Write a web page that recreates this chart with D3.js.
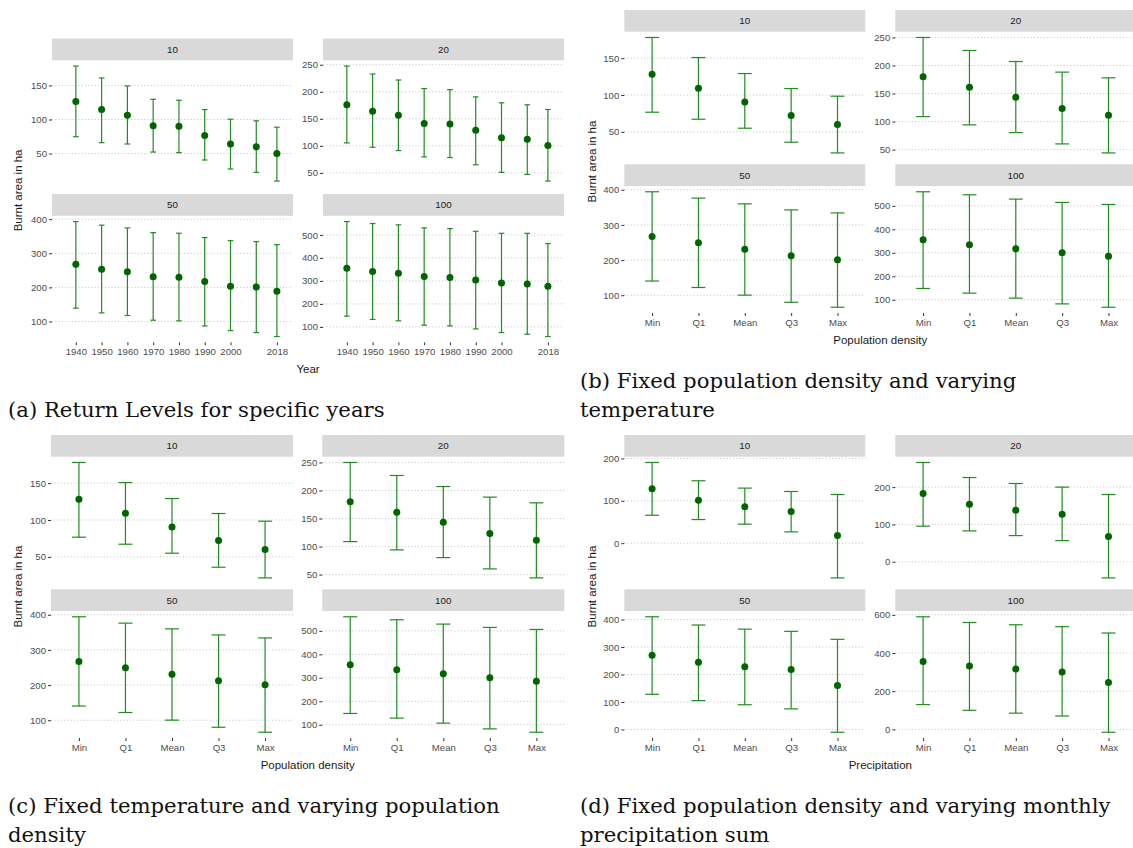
<!DOCTYPE html>
<html><head><meta charset="utf-8">
<script src="https://cdn.jsdelivr.net/npm/d3@7"></script>
<style>body{margin:0;background:#fff} svg{display:block}</style>
</head><body>
<svg id="chart" width="1133" height="848"></svg>
<script>
// ---------- data ----------
const facetLabels = ["10", "20", "50", "100"];
const years = [1940, 1950, 1960, 1970, 1980, 1990, 2000, 2010, 2018];
const yearTicks = [1940, 1950, 1960, 1970, 1980, 1990, 2000, 2018];
const quantLevels = ["Min", "Q1", "Mean", "Q3", "Max"];

// (a) return levels for specific years
const a10_est = [126.3, 114.6, 106.3, 90.8, 90.2, 76.6, 63.9, 60.0, 49.9];
const a10_lo  = [74.7, 66.0, 64.0, 52.2, 51.3, 40.5, 27.3, 22.4, 9.6];
const a10_hi  = [178.5, 161.0, 149.3, 129.7, 128.2, 114.6, 100.5, 98.0, 88.7];
const a20_est = [175.9, 164.2, 156.8, 141.5, 140.3, 128.7, 115.2, 112.1, 100.5];
const a20_lo  = [105.4, 97.4, 91.3, 79.6, 78.4, 65.0, 51.0, 47.2, 34.9];
const a20_hi  = [247.6, 232.9, 221.8, 205.9, 204.0, 190.6, 179.6, 175.9, 167.3];
const a50_est = [267.6, 253.0, 245.9, 231.2, 229.4, 217.6, 203.0, 200.9, 189.0];
const a50_lo  = [139.0, 125.3, 117.6, 103.8, 101.8, 87.0, 73.4, 67.6, 55.9];
const a50_hi  = [393.0, 382.4, 374.4, 360.6, 358.8, 345.9, 337.0, 334.1, 325.3];
const a100_est = [355.6, 340.7, 333.7, 318.8, 314.4, 304.4, 291.3, 287.0, 276.8];
const a100_lo  = [146.8, 132.4, 126.3, 107.4, 104.4, 91.0, 75.5, 68.0, 58.0];
const a100_hi  = [558.2, 549.5, 543.8, 530.6, 527.6, 515.8, 507.0, 507.0, 461.9];

// (b) fixed population density, varying temperature
const b10_est = [128.3, 109.3, 90.7, 72.1, 59.9];
const b10_lo  = [76.7, 67.2, 55.0, 36.0, 21.5];
const b10_hi  = [178.0, 150.8, 129.1, 108.8, 98.4];
const b20_est = [179.8, 161.4, 143.6, 123.2, 111.4];
const b20_lo  = [108.9, 94.1, 80.4, 60.2, 44.1];
const b20_hi  = [250.0, 226.8, 207.1, 188.2, 178.0];
const b50_est = [267.3, 249.3, 230.9, 212.0, 200.6];
const b50_lo  = [140.4, 122.0, 100.3, 80.0, 65.9];
const b50_hi  = [394.3, 376.2, 359.9, 342.7, 334.1];
const b100_est = [355.8, 334.3, 317.2, 300.0, 285.4];
const b100_lo  = [148.1, 128.3, 106.9, 82.4, 68.2];
const b100_hi  = [560.0, 547.2, 528.8, 514.6, 506.0];

// (c) fixed temperature, varying population density (values as shown)
const c10_est = [128.3, 109.3, 90.7, 72.1, 59.9];
const c10_lo  = [76.7, 67.2, 55.0, 36.0, 21.5];
const c10_hi  = [178.0, 150.8, 129.1, 108.8, 98.4];
const c20_est = [179.8, 161.4, 143.6, 123.2, 111.4];
const c20_lo  = [108.9, 94.1, 80.4, 60.2, 44.1];
const c20_hi  = [250.0, 226.8, 207.1, 188.2, 178.0];
const c50_est = [267.3, 249.3, 230.9, 212.0, 200.6];
const c50_lo  = [140.4, 122.0, 100.3, 80.0, 65.9];
const c50_hi  = [394.3, 376.2, 359.9, 342.7, 334.1];
const c100_est = [355.8, 334.3, 317.2, 300.0, 285.4];
const c100_lo  = [148.1, 128.3, 106.9, 82.4, 68.2];
const c100_hi  = [560.0, 547.2, 528.8, 514.6, 506.0];

// (d) fixed population density, varying monthly precipitation sum
const d10_est = [128.4, 101.6, 85.8, 74.7, 18.0];
const d10_lo  = [66.0, 55.8, 44.9, 26.7, -82.0];
const d10_hi  = [190.5, 147.3, 130.0, 122.0, 114.9];
const d20_est = [182.8, 154.4, 138.3, 127.6, 67.6];
const d20_lo  = [95.4, 82.8, 70.2, 56.8, -43.2];
const d20_hi  = [266.0, 225.7, 209.7, 200.0, 180.2];
const d50_est = [270.0, 245.0, 228.0, 218.0, 160.0];
const d50_lo  = [128.0, 105.0, 90.0, 75.0, -10.0];
const d50_hi  = [410.0, 380.0, 365.0, 357.0, 328.0];
const d100_est = [355.0, 332.0, 316.0, 300.0, 246.0];
const d100_lo  = [130.0, 100.0, 85.0, 70.0, -15.0];
const d100_hi  = [590.0, 560.0, 548.0, 538.0, 505.0];

// y tick labels per facet
const ticksA = [[50, 100, 150], [50, 100, 150, 200, 250], [100, 200, 300, 400], [100, 200, 300, 400, 500]];
const ticksB = [[50, 100, 150], [50, 100, 150, 200, 250], [100, 200, 300, 400], [100, 200, 300, 400, 500]];
const ticksD = [[0, 100, 200], [0, 100, 200], [0, 100, 200, 300, 400], [0, 200, 400, 600]];

const yTitle = "Burnt area in ha";
const captions = {
  a: ["(a) Return Levels for specific years"],
  b: ["(b) Fixed population density and varying", "temperature"],
  c: ["(c) Fixed temperature and varying population", "density"],
  d: ["(d) Fixed population density and varying monthly", "precipitation sum"]
};

// ---------- drawing ----------
const svg = d3.select("#chart");
const SANS = "'Liberation Sans', Arial, sans-serif";
const SERIF = "'DejaVu Serif', serif";
const BAR = "#228B22", PT = "#006400";

function pack(est, lo, hi) { return { est, lo, hi }; }

function drawFigure(spec) {
  const g = svg.append("g");
  const { facets, ticks, cols, rows, w, stripH, panelH } = spec;
  const xVals = spec.kind === "year" ? years : quantLevels;
  let lastBottom = 0;
  facets.forEach((f, i) => {
    const col = i % 2, row = Math.floor(i / 2);
    const left = cols[col], right = left + w;
    const stripTop = rows[row];
    const top = stripTop + stripH, bottom = top + panelH;
    lastBottom = bottom;

    const xs = spec.kind === "year"
      ? d3.scaleLinear().domain([1930.75, 2024.25]).range([left, right])
      : d3.scalePoint().domain(quantLevels).range([left, right]).padding(0.6);
    const capHalf = spec.kind === "year" ? xs(1941.1) - xs(1940) : xs.step() * 0.15;

    const lo = d3.min(f.lo), hi = d3.max(f.hi), pad = (hi - lo) * 0.05;
    const y = d3.scaleLinear().domain([lo - pad, hi + pad]).range([bottom, top]);

    // strip
    g.append("rect").attr("x", left).attr("y", stripTop).attr("width", w).attr("height", stripH)
      .attr("fill", "#d9d9d9");
    g.append("text").attr("x", (left + right) / 2).attr("y", stripTop + stripH / 2)
      .attr("text-anchor", "middle").attr("dominant-baseline", "central")
      .attr("font-family", SANS).attr("font-size", 9.8).attr("fill", "#1a1a1a")
      .text(facetLabels[i]);

    // grid
    g.append("g").selectAll("line").data(ticks[i]).join("line")
      .attr("x1", left).attr("x2", right)
      .attr("y1", d => y(d)).attr("y2", d => y(d))
      .attr("stroke", "#b3b3b3").attr("stroke-width", 0.8).attr("stroke-dasharray", "1,2.3");

    // y axis
    const ya = g.append("g").attr("transform", `translate(${left},0)`)
      .call(d3.axisLeft(y).tickValues(ticks[i]).tickSize(3).tickPadding(2).tickFormat(d3.format("d")));
    ya.select(".domain").remove();
    ya.selectAll("line").attr("stroke", "#333");
    ya.selectAll("text").attr("font-family", SANS).attr("font-size", 9.6).attr("fill", "#4d4d4d");

    // x axis (bottom row only)
    if (row === 1) {
      const xa = g.append("g").attr("transform", `translate(0,${bottom})`)
        .call(spec.kind === "year"
          ? d3.axisBottom(xs).tickValues(yearTicks).tickSize(3).tickPadding(3).tickFormat(d3.format("d"))
          : d3.axisBottom(xs).tickSize(3).tickPadding(3));
      xa.select(".domain").remove();
      xa.selectAll("line").attr("stroke", "#333");
      xa.selectAll("text").attr("font-family", SANS).attr("font-size", 9.6).attr("fill", "#4d4d4d");
    }

    // error bars
    const bars = g.append("g").attr("stroke", BAR).attr("stroke-width", 1.2).attr("fill", "none");
    xVals.forEach((xv, j) => {
      const cx = xs(xv);
      bars.append("line").attr("x1", cx).attr("x2", cx).attr("y1", y(f.lo[j])).attr("y2", y(f.hi[j]));
      bars.append("line").attr("x1", cx - capHalf).attr("x2", cx + capHalf).attr("y1", y(f.lo[j])).attr("y2", y(f.lo[j]));
      bars.append("line").attr("x1", cx - capHalf).attr("x2", cx + capHalf).attr("y1", y(f.hi[j])).attr("y2", y(f.hi[j]));
    });
    // points
    g.append("g").selectAll("circle").data(xVals).join("circle")
      .attr("cx", d => xs(d)).attr("cy", (d, j) => y(f.est[j])).attr("r", 3.5).attr("fill", PT);
  });

  // axis titles
  const plotTop = rows[0], plotBottom = lastBottom;
  g.append("text")
    .attr("transform", `translate(${spec.yTitleX},${(plotTop + plotBottom) / 2}) rotate(-90)`)
    .attr("text-anchor", "middle").attr("font-family", SANS).attr("font-size", 11.5).attr("fill", "#1a1a1a")
    .text(yTitle);
  g.append("text")
    .attr("x", (cols[0] + cols[1] + w) / 2).attr("y", lastBottom + 31)
    .attr("text-anchor", "middle").attr("font-family", SANS).attr("font-size", 11.5).attr("fill", "#1a1a1a")
    .text(spec.xTitle);

  // caption
  spec.caption.forEach((line, k) => {
    g.append("text").attr("x", spec.capX).attr("y", spec.capY + k * 29)
      .attr("font-family", SERIF).attr("font-size", 21.2).attr("fill", "#111")
      .text(line);
  });
}

drawFigure({
  kind: "year",
  facets: [pack(a10_est, a10_lo, a10_hi), pack(a20_est, a20_lo, a20_hi), pack(a50_est, a50_lo, a50_hi), pack(a100_est, a100_lo, a100_hi)],
  ticks: ticksA, cols: [52, 323], w: 241, rows: [38.5, 194], stripH: 21.8, panelH: 126.5,
  yTitleX: 22, xTitle: "Year", caption: captions.a, capX: 8, capY: 417
});
drawFigure({
  kind: "quant",
  facets: [pack(b10_est, b10_lo, b10_hi), pack(b20_est, b20_lo, b20_hi), pack(b50_est, b50_lo, b50_hi), pack(b100_est, b100_lo, b100_hi)],
  ticks: ticksB, cols: [624.3, 895.3], w: 241, rows: [10, 164.3], stripH: 21.7, panelH: 127,
  yTitleX: 596, xTitle: "Population density", caption: captions.b, capX: 580, capY: 388
});
drawFigure({
  kind: "quant",
  facets: [pack(c10_est, c10_lo, c10_hi), pack(c20_est, c20_lo, c20_hi), pack(c50_est, c50_lo, c50_hi), pack(c100_est, c100_lo, c100_hi)],
  ticks: ticksB, cols: [51, 322.3], w: 242, rows: [435, 589.3], stripH: 21.7, panelH: 127,
  yTitleX: 22, xTitle: "Population density", caption: captions.c, capX: 8, capY: 813
});
drawFigure({
  kind: "quant",
  facets: [pack(d10_est, d10_lo, d10_hi), pack(d20_est, d20_lo, d20_hi), pack(d50_est, d50_lo, d50_hi), pack(d100_est, d100_lo, d100_hi)],
  ticks: ticksD, cols: [624.3, 895.3], w: 241, rows: [435, 589.3], stripH: 21.7, panelH: 127,
  yTitleX: 596, xTitle: "Precipitation", caption: captions.d, capX: 580, capY: 813
});
</script></body></html>
